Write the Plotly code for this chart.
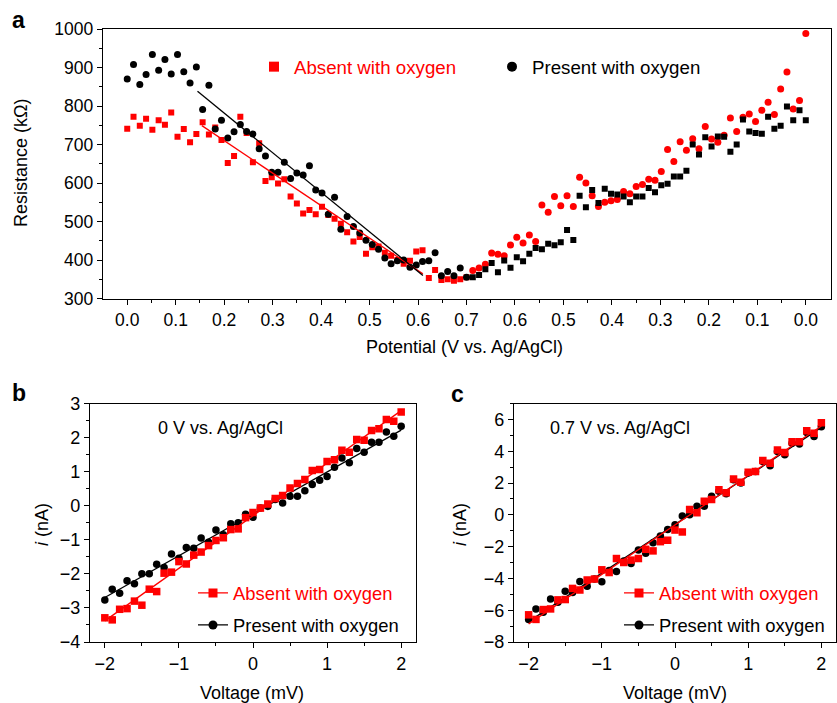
import numpy as np
import plotly.graph_objects as go

RED = "#ff0000"
BLACK = "#000000"
FONT = "Liberation Sans, Arial, Helvetica, sans-serif"
W, H = 837, 703

# ---------------- Panel a : resistance during a potential sweep ----------------
scan_vertex = 0.7                      # V vs. Ag/AgCl
n_fwd = 55
fwd_potential = np.linspace(0.0, scan_vertex, n_fwd)      # 0.0 -> 0.7
rev_potential = fwd_potential[::-1][1:]                   # 0.7 -> 0.0

fwd_absent = [741, 772, 749, 767, 738, 763, 751, 783, 720, 740, 706, 727, 758, 726, 744,
              712, 652, 670, 772, 730, 654, 703, 605, 615, 599, 610, 565, 547, 521, 530,
              519, 538, 517, 507, 494, 472, 448, 460, 416, 433, 435, 419, 411, 400, 390,
              398, 422, 425, 353, 374, 348, 350, 346, 350, 355]
fwd_present = [870, 908, 856, 882, 934, 893, 921, 883, 934, 889, 860, 901, 791, 854, 740,
               763, 717, 733, 752, 734, 727, 689, 670, 628, 628, 654, 612, 626, 621, 645,
               582, 574, 519, 563, 480, 513, 487, 470, 451, 440, 428, 405, 390, 398, 400,
               381, 387, 396, 398, 419, 359, 370, 359, 379, 355]
rev_absent = [373, 379, 389, 418, 415, 411, 439, 459, 444, 465, 448, 543, 524, 565, 541,
              567, 539, 615, 600, 567, 539, 550, 554, 557, 578, 572, 591, 596, 610, 607,
              630, 687, 656, 707, 685, 715, 689, 747, 714, 706, 724, 769, 734, 771, 779,
              760, 789, 810, 778, 844, 888, 792, 814, 988]
rev_present = [355, 361, 376, 392, 368, 399, 380, 407, 397, 416, 431, 428, 442, 438, 446,
               478, 452, 567, 537, 582, 548, 585, 572, 570, 565, 550, 565, 565, 587, 576,
               594, 598, 617, 617, 632, 700, 674, 719, 695, 721, 720, 681, 700, 765, 734,
               730, 728, 772, 741, 749, 799, 763, 789, 763]

# linear fits drawn over the decreasing part of the forward sweep
fit_a_absent_E = [0.154, 0.61]
fit_a_absent_R = [749, 364]
fit_a_present_E = [0.145, 0.61]
fit_a_present_R = [838, 360]

a_fwd_ticks = [0.0, 0.1, 0.2, 0.3, 0.4, 0.5, 0.6, 0.7]
a_rev_ticks = [0.6, 0.5, 0.4, 0.3, 0.2, 0.1, 0.0]

# ---------------- Panels b, c : I-V curves ----------------
iv_voltage = np.round(np.linspace(-2.0, 2.0, 41), 2)   # mV
b_absent = [-3.29, -3.35, -3.04, -3.02, -2.80, -2.92, -2.45, -2.52, -1.98, -1.95, -1.64,
            -1.71, -1.45, -1.36, -1.17, -1.02, -0.94, -0.70, -0.68, -0.35, -0.20, -0.07,
            0.05, 0.21, 0.30, 0.52, 0.65, 0.77, 1.03, 1.06, 1.30, 1.35, 1.63, 1.57, 1.94,
            1.92, 2.21, 2.26, 2.53, 2.48, 2.75]
b_present = [-2.77, -2.45, -2.57, -2.20, -2.29, -2.00, -2.00, -1.72, -1.81, -1.42, -1.54,
             -1.23, -1.25, -0.95, -1.07, -0.71, -0.85, -0.53, -0.50, -0.25, -0.34, -0.07,
             -0.02, 0.18, 0.08, 0.28, 0.28, 0.44, 0.62, 0.75, 0.86, 1.13, 1.40, 1.26, 1.68,
             1.57, 1.86, 1.86, 2.16, 2.04, 2.33]
c_absent = [-6.29, -6.58, -5.96, -5.92, -5.35, -5.33, -4.63, -4.73, -4.10, -4.04, -3.46,
            -3.63, -2.75, -3.00, -2.85, -2.75, -2.17, -2.27, -1.69, -1.60, -0.96, -1.08,
            0.33, 0.13, 0.85, 0.96, 1.58, 1.38, 2.25, 2.04, 2.67, 2.73, 3.42, 3.25, 4.08,
            3.92, 4.60, 4.60, 5.29, 5.13, 5.79]
c_present = [-6.58, -5.92, -6.13, -5.29, -5.50, -4.81, -4.88, -4.19, -4.50, -4.04, -4.21,
             -3.50, -3.56, -2.90, -3.06, -2.21, -2.42, -1.75, -1.33, -0.92, -0.63, -0.08,
             0.00, 0.54, 0.54, 1.17, 1.48, 1.33, 2.21, 2.00, 2.63, 2.73, 3.35, 3.08, 3.98,
             3.77, 4.50, 4.46, 5.17, 4.92, 5.54]

legend_names = ["Absent with oxygen", "Present with oxygen"]


def sweep_coord(E, reverse):
    E = np.asarray(E, dtype=float)
    return 2 * scan_vertex - E if reverse else E


fig = go.Figure()

# panel a data
fig.add_trace(go.Scatter(x=sweep_coord(fwd_potential, False), y=fwd_absent, mode="markers",
                         marker=dict(symbol="square", size=6, color=RED), showlegend=False,
                         xaxis="x", yaxis="y"))
fig.add_trace(go.Scatter(x=sweep_coord(fwd_potential, False), y=fwd_present, mode="markers",
                         marker=dict(symbol="circle", size=7, color=BLACK), showlegend=False,
                         xaxis="x", yaxis="y"))
fig.add_trace(go.Scatter(x=sweep_coord(rev_potential, True), y=rev_absent, mode="markers",
                         marker=dict(symbol="circle", size=7, color=RED), showlegend=False,
                         xaxis="x", yaxis="y"))
fig.add_trace(go.Scatter(x=sweep_coord(rev_potential, True), y=rev_present, mode="markers",
                         marker=dict(symbol="square", size=6, color=BLACK), showlegend=False,
                         xaxis="x", yaxis="y"))
fig.add_trace(go.Scatter(x=fit_a_absent_E, y=fit_a_absent_R, mode="lines",
                         line=dict(color=RED, width=1.3), showlegend=False, xaxis="x", yaxis="y"))
fig.add_trace(go.Scatter(x=fit_a_present_E, y=fit_a_present_R, mode="lines",
                         line=dict(color=BLACK, width=1.3), showlegend=False, xaxis="x", yaxis="y"))

# panels b and c data + linear fits
for ax, absent, present in (("2", b_absent, b_present), ("3", c_absent, c_present)):
    for vals, color, sym in ((present, BLACK, "circle"), (absent, RED, "square")):
        k, b0 = np.polyfit(iv_voltage, vals, 1)
        xs = iv_voltage[[0, -1]]
        fig.add_trace(go.Scatter(x=xs, y=k * xs + b0, mode="lines",
                                 line=dict(color=color, width=1.3), showlegend=False,
                                 xaxis="x" + ax, yaxis="y" + ax))
        fig.add_trace(go.Scatter(x=iv_voltage, y=vals, mode="markers",
                                 marker=dict(symbol=sym, size=7.5, color=color), showlegend=False,
                                 xaxis="x" + ax, yaxis="y" + ax))

# legend entries (one legend per entry for exact placement)
legend_specs = [
    ("legend", legend_names[0], RED, "square", "markers", 254, 67),
    ("legend2", legend_names[1], BLACK, "circle", "markers", 492, 67),
    ("legend3", legend_names[0], RED, "square", "lines+markers", 193, 593),
    ("legend4", legend_names[1], BLACK, "circle", "lines+markers", 193, 625),
    ("legend5", legend_names[0], RED, "square", "lines+markers", 619, 593),
    ("legend6", legend_names[1], BLACK, "circle", "lines+markers", 619, 625),
]
legend_layout = {}
for lg, name, color, sym, mode, px, py in legend_specs:
    fig.add_trace(go.Scatter(x=[None], y=[None], mode=mode, name=name, legend=lg,
                             marker=dict(symbol=sym, size=10 if mode == "markers" else 9, color=color),
                             line=dict(color=color, width=1.3), xaxis="x", yaxis="y"))
    legend_layout[lg] = dict(x=px / W, y=1 - py / H, xanchor="left", yanchor="middle",
                             bgcolor="rgba(0,0,0,0)", borderwidth=0,
                             font=dict(family=FONT, size=18.7 if mode == "markers" else 18.4,
                                       color=color))


def axis_style(size=17.5, **kw):
    d = dict(showline=True, linecolor="black", linewidth=1.4, mirror=True,
             ticks="outside", ticklen=5, tickwidth=1.3, tickcolor="black",
             showgrid=False, zeroline=False, automargin=False,
             tickfont=dict(family=FONT, size=size, color="black"))
    d.update(kw)
    return d


minor_style = dict(ticks="outside", ticklen=3, tickwidth=1.3, tickcolor="black", showgrid=False)

a_tickvals = list(sweep_coord(a_fwd_ticks, False)) + list(sweep_coord(a_rev_ticks, True))
a_ticktext = [f"{v:.1f}" for v in a_fwd_ticks + a_rev_ticks]
a_minor = [(a_tickvals[i] + a_tickvals[i + 1]) / 2 for i in range(len(a_tickvals) - 1)]

fig.update_layout(
    width=W, height=H, margin=dict(l=0, r=0, t=0, b=0, pad=0, autoexpand=False),
    paper_bgcolor="white", plot_bgcolor="white", showlegend=True,
    font=dict(family=FONT, color="black"),
    xaxis=axis_style(domain=[103 / W, 831 / W], range=[-0.05, 1.452], tickmode="array",
                     tickvals=a_tickvals, ticktext=a_ticktext, anchor="y",
                     minor=dict(tickmode="array", tickvals=a_minor, **minor_style)),
    yaxis=axis_style(domain=[1 - 298.5 / H, 1 - 29 / H], range=[300, 1000], dtick=100,
                     anchor="x", minor=dict(dtick=50, **minor_style)),
    xaxis2=axis_style(size=18, domain=[90 / W, 416 / W], range=[-2.2, 2.2], dtick=1, anchor="y2",
                      minor=dict(dtick=0.5, **minor_style)),
    yaxis2=axis_style(size=18, domain=[1 - 642 / H, 1 - 403.5 / H], range=[-4, 3], dtick=1,
                      anchor="x2", minor=dict(dtick=0.5, **minor_style)),
    xaxis3=axis_style(size=18, domain=[514 / W, 836 / W], range=[-2.2, 2.2], dtick=1, anchor="y3",
                      minor=dict(dtick=0.5, **minor_style)),
    yaxis3=axis_style(size=18, domain=[1 - 642 / H, 1 - 403.5 / H], range=[-8, 7], dtick=2,
                      anchor="x3", minor=dict(dtick=1, **minor_style)),
    **legend_layout,
)


def ann(text, px, py, size=18, bold=False, angle=0, color="black"):
    fig.add_annotation(text=f"<b>{text}</b>" if bold else text, x=px / W, y=1 - py / H,
                       xref="paper", yref="paper", xanchor="center", yanchor="middle",
                       showarrow=False, textangle=angle,
                       font=dict(family=FONT, size=size, color=color))


ann("a", 18, 20, size=23, bold=True)
ann("b", 19, 393, size=23, bold=True)
ann("c", 457, 394, size=23, bold=True)
ann("Resistance (kΩ)", 21, 163, angle=-90)
ann("Potential (V vs. Ag/AgCl)", 464, 347)
ann("Voltage (mV)", 252, 693)
ann("Voltage (mV)", 675, 693)
ann("<i>i</i> (nA)", 42, 525, angle=-90)
ann("<i>i</i> (nA)", 460, 525, angle=-90)
ann("0 V vs. Ag/AgCl", 220, 428)
ann("0.7 V vs. Ag/AgCl", 620, 428)

fig.write_html("out.html", config={"displayModeBar": False},
               post_script="document.body.style.margin='0px';")
